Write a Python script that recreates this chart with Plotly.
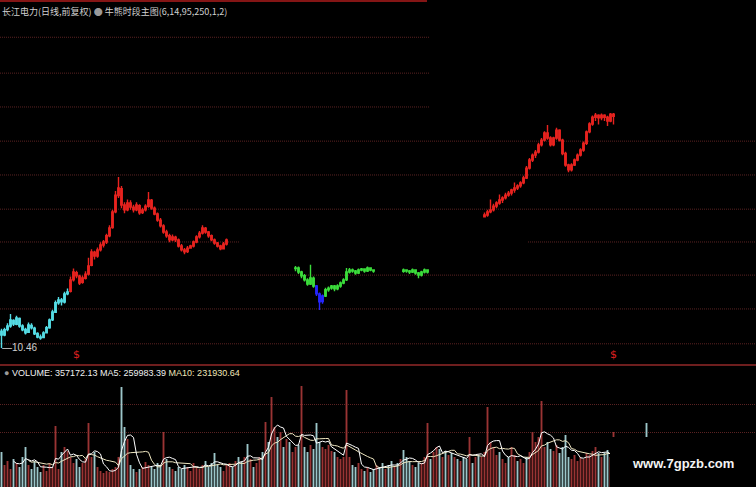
import plotly.graph_objects as go
import pandas as pd

# ---------------- data ----------------
stock_name = "长江电力(日线,前复权)"
indicator_name = "牛熊时段主图(6,14,95,250,1,2)"
vol_label_volume = "VOLUME: 357172.13"
vol_label_ma5 = "MA5: 259983.39"
vol_label_ma10 = "MA10: 231930.64"
low_price_label = 10.46
watermark = "www.7gpzb.com"

# candles (open, high, low, close) per regime segment; *_start = first bar index
cyan_start = 0
cyan_ohlc = [
    (10.95, 11.02, 10.46, 10.84), (10.84, 11.05, 10.80, 10.99), (11.00, 11.18, 10.95, 11.10),
    (11.10, 11.45, 11.05, 11.28), (11.26, 11.30, 11.10, 11.16), (11.15, 11.40, 11.12, 11.34),
    (11.32, 11.35, 11.05, 11.10), (11.10, 11.15, 10.95, 10.99), (11.00, 11.05, 10.85, 10.90),
    (10.92, 11.20, 10.90, 11.13), (11.12, 11.18, 11.00, 11.05), (11.04, 11.08, 10.84, 10.87),
    (10.88, 10.92, 10.74, 10.78), (10.78, 10.85, 10.70, 10.75), (10.76, 10.95, 10.74, 10.90),
    (10.90, 11.10, 10.88, 11.05), (11.05, 11.32, 11.02, 11.28), (11.28, 11.58, 11.25, 11.51),
    (11.50, 11.85, 11.48, 11.78), (11.78, 11.95, 11.72, 11.86), (11.86, 11.92, 11.70, 11.81),
    (11.80, 12.10, 11.76, 12.04), (12.04, 12.20, 12.00, 12.10),
]
red1_start = 23
red1_ohlc = [
    (12.12, 12.55, 12.08, 12.45), (12.45, 12.78, 12.40, 12.68), (12.66, 12.72, 12.50, 12.57),
    (12.56, 12.60, 12.30, 12.36), (12.38, 12.58, 12.34, 12.51), (12.50, 12.70, 12.46, 12.62),
    (12.62, 13.10, 12.58, 12.86), (12.88, 13.35, 12.85, 13.27), (13.26, 13.30, 13.05, 13.15),
    (13.15, 13.40, 13.10, 13.33), (13.33, 13.55, 13.28, 13.47), (13.47, 13.62, 13.40, 13.56),
    (13.56, 13.80, 13.50, 13.74), (13.74, 14.05, 13.70, 13.97), (13.98, 14.50, 13.95, 14.44),
    (14.44, 15.05, 14.40, 14.93), (14.92, 15.46, 14.85, 15.14), (15.12, 15.20, 14.55, 14.64),
    (14.64, 14.72, 14.40, 14.50), (14.50, 14.80, 14.46, 14.70), (14.70, 14.78, 14.50, 14.58),
    (14.58, 14.65, 14.42, 14.50), (14.50, 14.72, 14.46, 14.64), (14.62, 14.66, 14.36, 14.41),
    (14.42, 14.56, 14.38, 14.50), (14.50, 14.66, 14.45, 14.61), (14.60, 15.02, 14.56, 14.79),
    (14.78, 14.82, 14.50, 14.55), (14.55, 14.60, 14.34, 14.38), (14.38, 14.42, 14.15, 14.20),
    (14.20, 14.26, 13.98, 14.03), (14.03, 14.08, 13.80, 13.85), (13.85, 13.92, 13.68, 13.74),
    (13.74, 13.80, 13.55, 13.62), (13.62, 13.78, 13.58, 13.71), (13.70, 13.74, 13.56, 13.62),
    (13.62, 13.66, 13.40, 13.44), (13.44, 13.50, 13.28, 13.33), (13.33, 13.38, 13.20, 13.27),
    (13.28, 13.44, 13.24, 13.38), (13.38, 13.48, 13.36, 13.44), (13.44, 13.60, 13.40, 13.56),
    (13.56, 13.76, 13.52, 13.71), (13.71, 13.88, 13.66, 13.82), (13.82, 14.05, 13.78, 13.97),
    (13.96, 14.00, 13.80, 13.85), (13.85, 13.88, 13.68, 13.74), (13.74, 13.78, 13.58, 13.62),
    (13.62, 13.66, 13.48, 13.53), (13.53, 13.56, 13.40, 13.44), (13.44, 13.48, 13.32, 13.36),
    (13.36, 13.56, 13.34, 13.50), (13.50, 13.66, 13.46, 13.62),
]
green1_start = 98
green1_ohlc = [
    (12.78, 12.86, 12.70, 12.80), (12.80, 12.84, 12.62, 12.68), (12.68, 12.72, 12.50, 12.57),
    (12.57, 12.62, 12.40, 12.45), (12.45, 12.50, 12.28, 12.33), (12.33, 12.89, 12.30, 12.51),
    (12.50, 12.55, 12.22, 12.27),
]
blue_start = 105
blue_ohlc = [
    (12.27, 12.30, 11.98, 12.04), (12.04, 12.08, 11.57, 11.81), (11.82, 12.02, 11.75, 11.98),
]
green2_start = 108
green2_ohlc = [
    (11.98, 12.22, 11.95, 12.16), (12.16, 12.26, 12.10, 12.21), (12.21, 12.30, 12.16, 12.27),
    (12.27, 12.30, 12.12, 12.19), (12.19, 12.32, 12.15, 12.27), (12.27, 12.40, 12.22, 12.36),
    (12.36, 12.50, 12.32, 12.45), (12.45, 12.80, 12.42, 12.68), (12.68, 12.80, 12.64, 12.74),
    (12.74, 12.78, 12.66, 12.71), (12.71, 12.74, 12.60, 12.65), (12.65, 12.78, 12.62, 12.74),
    (12.74, 12.80, 12.70, 12.77), (12.77, 12.79, 12.66, 12.71), (12.71, 12.84, 12.68, 12.80),
    (12.80, 12.82, 12.70, 12.74), (12.74, 12.76, 12.66, 12.71),
]
green3_start = 134
green3_ohlc = [
    (12.70, 12.78, 12.66, 12.74), (12.74, 12.76, 12.66, 12.71), (12.71, 12.74, 12.62, 12.68),
    (12.68, 12.78, 12.65, 12.74), (12.74, 12.76, 12.60, 12.65), (12.65, 12.68, 12.50, 12.59),
    (12.59, 12.72, 12.55, 12.68), (12.68, 12.78, 12.64, 12.74), (12.74, 12.76, 12.64, 12.68),
]
red2_start = 161
red2_ohlc = [
    (14.30, 14.42, 14.28, 14.35), (14.35, 14.50, 14.30, 14.44), (14.44, 14.80, 14.40, 14.50),
    (14.50, 14.68, 14.45, 14.61), (14.61, 14.75, 14.55, 14.70), (14.70, 14.95, 14.65, 14.79),
    (14.79, 14.90, 14.70, 14.85), (14.85, 15.00, 14.80, 14.93), (14.93, 15.05, 14.88, 14.99),
    (14.99, 15.12, 14.92, 15.08), (15.08, 15.30, 15.00, 15.14), (15.14, 15.25, 15.08, 15.20),
    (15.20, 15.34, 15.15, 15.29), (15.29, 15.50, 15.25, 15.43), (15.43, 15.78, 15.40, 15.72),
    (15.72, 16.02, 15.68, 15.96), (15.96, 16.15, 15.90, 16.10), (16.10, 16.25, 16.02, 16.19),
    (16.19, 16.46, 16.15, 16.40), (16.40, 16.60, 16.35, 16.54), (16.54, 16.80, 16.50, 16.75),
    (16.75, 16.98, 16.55, 16.60), (16.60, 16.65, 16.35, 16.40), (16.40, 16.64, 16.36, 16.60),
    (16.60, 16.90, 16.55, 16.83), (16.83, 16.86, 16.50, 16.54), (16.54, 16.58, 16.10, 16.15),
    (16.15, 16.20, 15.76, 15.81), (15.81, 15.85, 15.60, 15.67), (15.67, 15.86, 15.62, 15.81),
    (15.81, 16.00, 15.78, 15.96), (15.96, 16.15, 15.92, 16.10), (16.10, 16.30, 16.06, 16.25),
    (16.25, 16.50, 16.20, 16.45), (16.45, 16.82, 16.40, 16.78), (16.78, 17.06, 16.74, 17.01),
    (17.01, 17.26, 16.96, 17.21), (17.21, 17.33, 17.10, 17.27), (17.27, 17.30, 17.00, 17.19),
    (17.19, 17.32, 17.12, 17.27), (17.27, 17.30, 17.10, 17.21), (17.21, 17.25, 16.95, 17.10),
    (17.10, 17.33, 17.06, 17.30), (17.30, 17.33, 17.00, 17.24),
]

# volume per bar (万股), bar index 0..215
volume = [
    35, 22, 26, 18, 28, 24, 20, 30, 40, 22, 18, 26, 20, 15, 22, 16, 24, 20, 61, 18,
    35, 40, 36, 30, 24, 28, 20, 24, 28, 64, 30, 35, 20, 16, 14, 16, 15, 18, 20, 30,
    100, 60, 48, 22, 18, 15, 18, 20, 25, 22, 20, 18, 24, 22, 55, 28, 20, 18, 16, 20,
    18, 22, 20, 16, 24, 20, 18, 22, 26, 20, 24, 34, 22, 20, 16, 22, 24, 20, 26, 30,
    25, 30, 43, 28, 20, 24, 30, 35, 65, 45, 90, 60, 50, 55, 40, 48, 45, 35, 40, 42,
    101, 40, 35, 42, 38, 64, 45, 40, 38, 42, 36, 35, 30, 28, 30, 97, 30, 22, 20, 24,
    18, 16, 20, 15, 18, 22, 20, 24, 18, 22, 26, 20, 24, 28, 37, 30, 26, 22, 20, 24,
    24, 30, 64, 28, 35, 40, 38, 30, 36, 32, 34, 30, 28, 26, 30, 28, 50, 24, 30, 32,
    30, 35, 80, 45, 40, 32, 35, 28, 24, 30, 40, 32, 26, 28, 24, 30, 35, 55, 45, 50,
    86, 40, 45, 38, 36, 42, 34, 40, 52, 30, 28, 32, 26, 30, 28, 34, 32, 36, 40, 34,
    30, 34, 37, 30, 55, 30, 28, 32, 26, 30, 34, 28, 30, 26, 32, 64,
]
# r = up day, c = down day
vol_dir = (
    "crrrcrcccrccccrrrrrr" "crrrrccrrrrcrrrrrrrr" "ccrccrcrrrccccrccrcc" "ccrrrrrrccccccrrrcrc"
    "crcrcrrcrcrrcrcrcrrc" "rccrcccrrrrcrrrrrccr" "rcrccrccrccrcrcccrcc" "rrrcrrcrcrcrcrccrcrc"
    "rrrrrrcrrcrrcrrcrrrr" "rrccrrccccrrrrrrrrrc" "rccrrcrcrcrcrcrc"
)
signal_bars = [25, 204]
price_grid = [19.55, 18.50, 17.51, 16.51, 15.52, 14.52, 13.56, 12.59, 11.60, 10.58]
volume_grid = [55, 83]

# ---------------- colours / style ----------------
C_CYAN = "#55dde6"
C_RED = "#e8231f"
C_GREEN = "#3bdc3b"
C_BLUE = "#2626ff"
C_VOL_UP = "#9a3434"
C_VOL_DN = "#9cc6ca"
GRID = "#5a2222"
W = 756
H = 487
price_bot_px = 365
vol_top_px = 367
# horizontal extent (px) of each price grid line, same order as price_grid
grid_spans = [
    [(0, 430)], [(0, 430)], [(0, 430)], [(0, W)], [(0, W)], [(0, W)],
    [(0, 240), (528, W)], [(0, W)], [(0, W)], [(0, W)],
]

fig = go.Figure()


def add_candles(start, ohlc, color):
    o, h, l, c = zip(*ohlc)
    x = list(range(start, start + len(ohlc)))
    fig.add_trace(go.Candlestick(
        x=x, open=o, high=h, low=l, close=c,
        increasing=dict(line=dict(color=color, width=1.4), fillcolor=color),
        decreasing=dict(line=dict(color=color, width=1.4), fillcolor=color),
        whiskerwidth=0, xaxis="x", yaxis="y", hoverinfo="skip", showlegend=False,
    ))


add_candles(cyan_start, cyan_ohlc, C_CYAN)
add_candles(red1_start, red1_ohlc, C_RED)
add_candles(green1_start, green1_ohlc, C_GREEN)
add_candles(blue_start, blue_ohlc, C_BLUE)
add_candles(green2_start, green2_ohlc, C_GREEN)
add_candles(green3_start, green3_ohlc, C_GREEN)
add_candles(red2_start, red2_ohlc, C_RED)

# signal markers "$"
fig.add_trace(go.Scatter(
    x=signal_bars, y=[10.24] * len(signal_bars), mode="text", text=["$"] * len(signal_bars),
    textfont=dict(color="#e02020", size=11, family="DejaVu Sans"),
    xaxis="x", yaxis="y", hoverinfo="skip", showlegend=False,
))

# volume bars
vx = list(range(len(volume)))
fig.add_trace(go.Bar(
    x=vx, y=volume, width=0.62,
    marker=dict(color=[C_VOL_UP if d == "r" else C_VOL_DN for d in vol_dir], line=dict(width=0)),
    xaxis="x", yaxis="y2", hoverinfo="skip", showlegend=False,
))
vs = pd.Series(volume, dtype=float)
ma5 = vs.rolling(5).mean()
ma10 = vs.rolling(10).mean()
fig.add_trace(go.Scatter(x=vx, y=ma10, mode="lines", line=dict(color="#eee6c0", width=1),
                         xaxis="x", yaxis="y2", hoverinfo="skip", showlegend=False))
fig.add_trace(go.Scatter(x=vx, y=ma5, mode="lines", line=dict(color="#ffffff", width=1),
                         xaxis="x", yaxis="y2", hoverinfo="skip", showlegend=False))

price_dom = [(H - price_bot_px) / H, 1.0]
vol_dom = [0.0, (H - vol_top_px) / H]

fig.update_layout(
    width=W, height=H,
    margin=dict(l=0, r=0, t=0, b=0),
    paper_bgcolor="black", plot_bgcolor="black",
    showlegend=False,
    xaxis=dict(range=[-0.5, 251.5], visible=False, rangeslider=dict(visible=False),
               anchor="y2", fixedrange=True),
    yaxis=dict(domain=price_dom, range=[9.96, 20.64], showticklabels=False,
               showgrid=False, zeroline=False, showline=False, ticks="", fixedrange=True),
    yaxis2=dict(domain=vol_dom, range=[0, 120], tickvals=volume_grid, showticklabels=False,
                showgrid=True, gridcolor=GRID, griddash="1px,1px", gridwidth=1, zeroline=False,
                showline=False, ticks="", fixedrange=True),
)

shapes = []
for level, spans in zip(price_grid, grid_spans):
    for a, b in spans:
        shapes.append(dict(type="line", xref="paper", yref="y", x0=a / W, x1=b / W, y0=level, y1=level,
                           line=dict(color=GRID, width=1, dash="1px,1px"), layer="below"))
shapes += [
    # top border (partial)
    dict(type="line", xref="paper", yref="paper", x0=0, x1=427 / W, y0=1 - 1 / H, y1=1 - 1 / H,
         line=dict(color="#b01c1c", width=1.5)),
    # panel separator
    dict(type="line", xref="paper", yref="paper", x0=0, x1=1, y0=(H - 365) / H, y1=(H - 365) / H,
         line=dict(color="#6e1e1e", width=2)),
    # watermark box
    dict(type="rect", xref="paper", yref="paper", x0=610 / W, x1=1, y0=0, y1=(H - 437) / H,
         fillcolor="black", line=dict(width=0), layer="above"),
]
fig.update_layout(shapes=shapes)

ann = [
    dict(xref="paper", yref="paper", x=0.0, y=1 - 3 / H, xanchor="left", yanchor="top",
         showarrow=False,
         text=(f'<span style="color:#d0d0d0">{stock_name}</span> '
               f'<span style="color:#9a9a9a">●</span>'
               f'<span style="color:#d0d0d0"> {indicator_name}</span>'),
         font=dict(family="Noto Sans CJK SC", size=9, color="#d0d0d0")),
    dict(xref="paper", yref="paper", x=0.002, y=(H - 373) / H, xanchor="left", yanchor="middle",
         showarrow=False,
         text=(f'<span style="color:#9a9a9a">●</span> '
               f'<span style="color:#f0f0f0">{vol_label_volume}</span> '
               f'<span style="color:#f0f0f0">{vol_label_ma5}</span> '
               f'<span style="color:#efe6b8">{vol_label_ma10}</span>'),
         font=dict(family="Liberation Sans", size=9, color="#f0f0f0")),
    dict(xref="x", yref="y", x=cyan_start, y=low_price_label, xanchor="left", yanchor="middle",
         xshift=-2, showarrow=False, text=f"—{low_price_label:.2f}",
         font=dict(family="Liberation Sans", size=10, color="#d0d0d0")),
    dict(xref="paper", yref="paper", x=683 / W, y=(H - 463) / H, xanchor="center", yanchor="middle",
         showarrow=False, text=f"<b>{watermark}</b>",
         font=dict(family="Liberation Sans", size=13, color="#f4f4f4")),
]
fig.update_layout(annotations=ann)

fig.write_html(
    "out.html",
    config={"displayModeBar": False, "staticPlot": True},
    post_script="document.body.style.margin='0';document.body.style.overflow='hidden';"
                "document.body.style.background='black';",
)
